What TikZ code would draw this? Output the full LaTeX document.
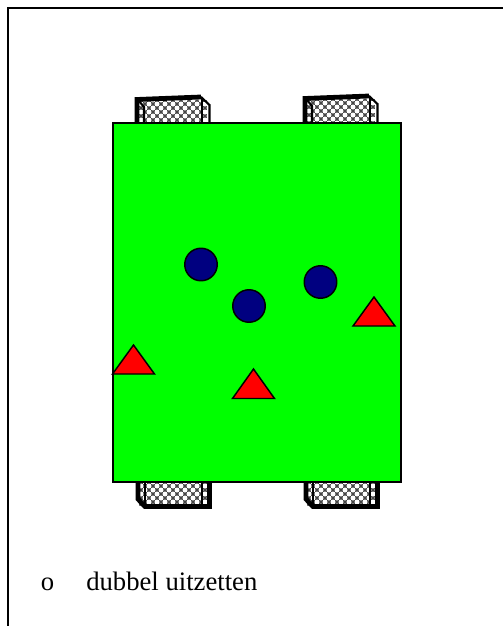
\documentclass[tikz,border=0pt]{standalone}
\usepackage{fontspec}
\setmainfont{Liberation Serif}
\usetikzlibrary{shapes.geometric}
\definecolor{pitch}{RGB}{0,255,0}
\definecolor{navyp}{RGB}{0,0,128}
\definecolor{netgray}{RGB}{70,70,70}
\newlength{\pxu}\setlength{\pxu}{0.75pt}
\def\lblsize{20pt}
\tikzset{
  frameline/.style={draw=black,line width=1.5pt},
  pitchbox/.style={draw=black,line width=1.1pt,fill=pitch},
  player/.style={circle,draw=black,line width=1.1pt,fill=navyp,minimum size=32.5\pxu,inner sep=0pt},
  cone/.style={draw=black,line width=1.1pt,fill=red,line join=miter},
  bar/.style={draw=black,line width=3.6pt,line cap=butt,line join=miter},
  post/.style={draw=black,line width=1.6pt,line join=miter},
  label/.style={font=\fontsize{\lblsize}{\lblsize}\selectfont,anchor=base west,inner sep=0pt}
}
\newcommand{\netfill}[4]{%
  \begin{scope}
  \clip (#1,#2) rectangle (#3,#4);
  \fill[netgray] (#1,#2) rectangle (#3,#4);
  \foreach \i in {0,...,12}{\foreach \j in {0,...,5}{
    \fill[white] ({#1+\i*8-2},{#2+\j*8}) circle (2.5);
    \fill[white] ({#1+\i*8+2},{#2+\j*8+4}) circle (2.5);
  }}
  \end{scope}}
\begin{document}
\begin{tikzpicture}[x=0.75pt,y=-0.75pt]
\useasboundingbox (0,0) rectangle (503,626);
\fill[white] (0,0) rectangle (503,626);
\coordinate (f1) at (7.5,626); \coordinate (f2) at (7.5,8); \coordinate (f3) at (503,8);
\draw[frameline] (f1) -- (f2) -- (f3);
% top goals
\netfill{139}{100}{207}{122}
\netfill{307}{99}{375}{122}
\coordinate (a1) at (137,122); \coordinate (a2) at (137,99.5); \coordinate (a3) at (201,97);
\coordinate (a4) at (209.5,105); \coordinate (a5) at (209.5,122);
\coordinate (a6) at (202,98); \coordinate (a7) at (202,122);
\coordinate (a8) at (139,101); \coordinate (a9) at (144,107); \coordinate (a10) at (144,122);
\draw[bar] (a1) -- (a2) -- (a3);
\draw[post] (a3) -- (a4) -- (a5); \draw[post] (a6) -- (a7); \draw[post] (a8) -- (a9) -- (a10);
\coordinate (b1) at (305,122); \coordinate (b2) at (305,98.5); \coordinate (b3) at (369,96);
\coordinate (b4) at (377.5,104); \coordinate (b5) at (377.5,122);
\coordinate (b6) at (370,97); \coordinate (b7) at (370,122);
\coordinate (b8) at (307,100); \coordinate (b9) at (312,106); \coordinate (b10) at (312,122);
\draw[bar] (b1) -- (b2) -- (b3);
\draw[post] (b3) -- (b4) -- (b5); \draw[post] (b6) -- (b7); \draw[post] (b8) -- (b9) -- (b10);
% bottom goals
\netfill{139}{482}{209}{506}
\netfill{307}{482}{377}{506}
\coordinate (c1) at (138,482); \coordinate (c2) at (138,499); \coordinate (c3) at (145,506.5);
\coordinate (c4) at (209.5,506.5); \coordinate (c5) at (209.5,482);
\coordinate (c6) at (145,482); \coordinate (c7) at (145,507); \coordinate (c8) at (202,482); \coordinate (c9) at (202,507);
\draw[bar] (c1) -- (c2) -- (c3) -- (c4) -- (c5);
\draw[post] (c6) -- (c7); \draw[post] (c8) -- (c9);
\coordinate (d1) at (306,482); \coordinate (d2) at (306,499); \coordinate (d3) at (313,506.5);
\coordinate (d4) at (377.5,506.5); \coordinate (d5) at (377.5,482);
\coordinate (d6) at (313,482); \coordinate (d7) at (313,507); \coordinate (d8) at (370,482); \coordinate (d9) at (370,507);
\draw[bar] (d1) -- (d2) -- (d3) -- (d4) -- (d5);
\draw[post] (d6) -- (d7); \draw[post] (d8) -- (d9);
% pitch
\node[pitchbox,minimum width=288\pxu,minimum height=359\pxu,inner sep=0pt] (pitchnode) at (257,302.5) {};
% players
\node[player] (p1) at (201,264.5) {};
\node[player] (p2) at (249,306) {};
\node[player] (p3) at (320.5,282) {};
% cones
\draw[cone] (374,297) -- (395,326) -- (353,326) -- cycle;
\draw[cone] (133.5,345) -- (154.5,374) -- (112.5,374) -- cycle;
\draw[cone] (253.5,369) -- (274.5,398.5) -- (232.5,398.5) -- cycle;
% text
\node[label] (bul) at (40.5,590) {o};
\node[label] (txt) at (86,590) {dubbel uitzetten};
\end{tikzpicture}
\end{document}
